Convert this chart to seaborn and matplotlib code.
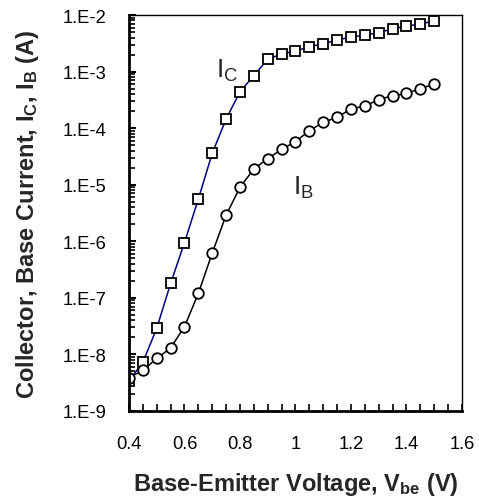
import numpy as np
import pandas as pd
import seaborn as sns
import matplotlib
matplotlib.use("Agg")
import matplotlib.pyplot as plt
from matplotlib.ticker import FuncFormatter, LogLocator, MultipleLocator

# base-emitter voltage (V)
vbe = [0.40, 0.45, 0.50, 0.55, 0.60, 0.65, 0.70, 0.75, 0.80, 0.85, 0.90, 0.95,
       1.00, 1.05, 1.10, 1.15, 1.20, 1.25, 1.30, 1.35, 1.40, 1.45, 1.50]

# collector current (A)
ic = [3.4e-9, 7.3e-9, 2.9e-8, 1.8e-7, 9.5e-7, 5.6e-6, 3.6e-5, 1.45e-4, 4.4e-4,
      8.5e-4, 1.65e-3, 2.05e-3, 2.3e-3, 2.75e-3, 3.1e-3, 3.6e-3, 4.1e-3,
      4.4e-3, 4.9e-3, 5.7e-3, 6.4e-3, 6.9e-3, 7.9e-3]

# base current (A)
ib = [3.9e-9, 5.2e-9, 8.5e-9, 1.3e-8, 3.1e-8, 1.2e-7, 6.2e-7, 2.9e-6, 9.0e-6,
      1.9e-5, 2.9e-5, 4.2e-5, 5.8e-5, 9.0e-5, 1.27e-4, 1.55e-4, 2.2e-4,
      2.45e-4, 3.2e-4, 3.75e-4, 4.1e-4, 5.0e-4, 6.0e-4]

x_ticks = [0.4, 0.6, 0.8, 1.0, 1.2, 1.4, 1.6]
x_tick_labels = ["0.4", "0.6", "0.8", "1", "1.2", "1.4", "1.6"]

df = pd.DataFrame({"vbe": vbe, "ic": ic, "ib": ib})

sns.set_style("white")
plt.rcParams["font.family"] = ["Liberation Sans", "DejaVu Sans"]
plt.rcParams["mathtext.fontset"] = "custom"
plt.rcParams["mathtext.rm"] = "Liberation Sans"

fig = plt.figure(figsize=(4.79, 5.02), dpi=100)
ax = fig.add_axes([0.2693, 0.1793, 0.6952, 0.7888])

sns.lineplot(data=df, x="vbe", y="ic", ax=ax, color="#000080", lw=1.1,
             marker="s", markersize=7.8, markerfacecolor="white",
             markeredgecolor="black", markeredgewidth=1.3)
sns.lineplot(data=df, x="vbe", y="ib", ax=ax, color="black", lw=1.1,
             marker="o", markersize=7.6, markerfacecolor="white",
             markeredgecolor="black", markeredgewidth=1.3)

ax.set_yscale("log")
ax.set_xlim(0.4, 1.6)
ax.set_ylim(1e-9, 1e-2)

ax.set_xticks(x_ticks)
ax.set_xticklabels(x_tick_labels)
ax.xaxis.set_minor_locator(MultipleLocator(0.05))
ax.yaxis.set_major_locator(LogLocator(base=10, numticks=20))
ax.yaxis.set_minor_locator(LogLocator(base=10, subs=np.arange(2, 10), numticks=20))
ax.yaxis.set_major_formatter(FuncFormatter(lambda v, p: "1.E%d" % round(np.log10(v))))

ax.tick_params(axis="both", which="both", direction="in", labelsize=13.2,
               colors="black", top=False, right=False, bottom=True, left=True)
ax.tick_params(axis="x", which="major", length=5, width=1.2, pad=17)
ax.tick_params(axis="x", which="minor", length=5, width=1.2)
ax.tick_params(axis="y", which="major", length=5, width=1.5, pad=16)
ax.tick_params(axis="y", which="minor", length=4, width=1.2)

for side, sp in ax.spines.items():
    sp.set_color("black")
    sp.set_linewidth(1.0)
ax.spines["left"].set_linewidth(2.0)
ax.spines["bottom"].set_linewidth(2.0)

ax.set_xlabel(r"Base-Emitter Voltage, $\mathregular{V_{be}}$ (V)",
              fontsize=17, fontweight="bold", labelpad=13)
ax.set_ylabel(r"Collector, Base Current, $\mathregular{I_C}$, $\mathregular{I_B}$ (A)",
              fontsize=17, fontweight="bold", labelpad=16)

ax.text(0.715, 8e-4, r"$\mathregular{I_C}$", fontsize=19, ha="left", va="baseline")
ax.text(0.99, 6.9e-6, r"$\mathregular{I_B}$", fontsize=19, ha="left", va="baseline")

fig.savefig("out.png", dpi=100)
